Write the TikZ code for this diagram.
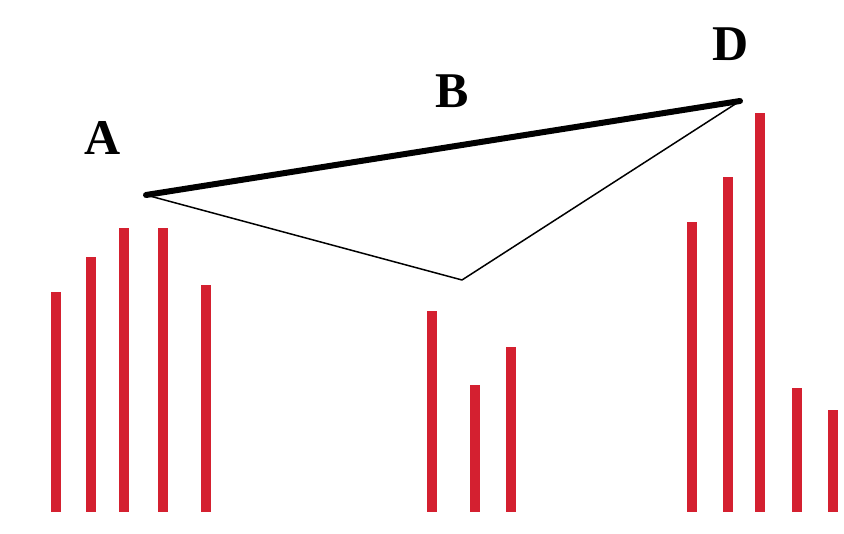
\documentclass[tikz,border=0pt]{standalone}
\usepackage{fontspec}
\setmainfont{Liberation Serif}
\usepackage{tikz}
\usetikzlibrary{positioning}
\definecolor{BarRed}{HTML}{D42030}

\begin{document}
\begin{tikzpicture}[x=1pt,y=-1pt,bar/.style={draw=BarRed,line width=9.5pt},lbl/.style={font=\fontsize{50}{60}\selectfont\bfseries,inner sep=0pt}]
  \useasboundingbox (0,0) rectangle (844,534);
  \foreach \i/\x/\top in {1/56/292, 2/91/257, 3/124/228, 4/163/228, 5/206/285, 6/432/311, 7/475/385, 8/511/347, 9/692/222, 10/728/177, 11/760/113, 12/797/388, 13/833/410}{
    \draw[bar] (\x,512) -- (\x,\top);
  }
  \coordinate (a) at (146,195);
  \coordinate (c) at (462,280);
  \coordinate (d) at (740,101);
  \node[lbl] (labA) at (103,138) {A};
  \node[lbl] (labB) at (452,91) {B};
  \node[lbl] (labD) at (731,44) {D};
  \draw[line width=1.5pt,line join=round] (a) -- (c) -- (d);
  \draw[line width=6pt,line cap=round] (a) -- (d);
\end{tikzpicture}
\end{document}
